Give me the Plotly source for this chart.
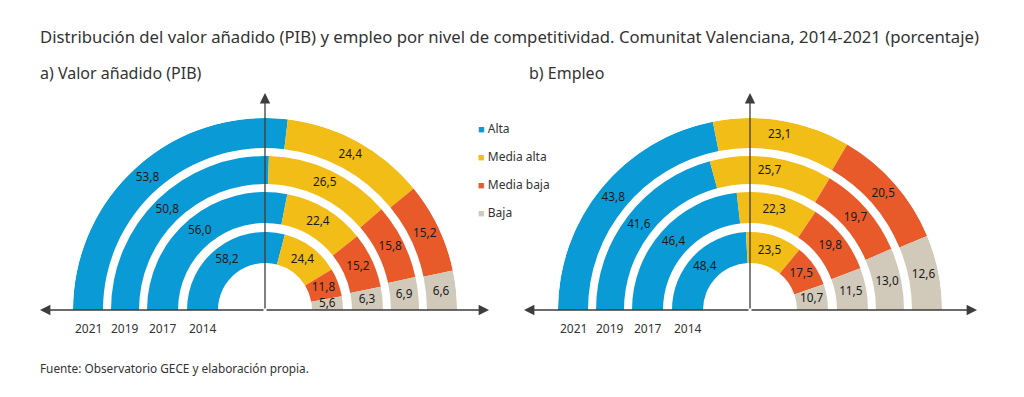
import plotly.graph_objects as go

# ---------------- data ----------------
years = ["2014", "2017", "2019", "2021"]
categories = ["Alta", "Media alta", "Media baja", "Baja"]

pib_alta = [58.2, 56.0, 50.8, 53.8]
pib_media_alta = [24.4, 22.4, 26.5, 24.4]
pib_media_baja = [11.8, 15.2, 15.8, 15.2]
pib_baja = [5.6, 6.3, 6.9, 6.6]

emp_alta = [48.4, 46.4, 41.6, 43.8]
emp_media_alta = [23.5, 22.3, 25.7, 23.1]
emp_media_baja = [17.5, 19.8, 19.7, 20.5]
emp_baja = [10.7, 11.5, 13.0, 12.6]

# ---------------- style ----------------
W, H = 1024, 397
OFF = 8  # page body margin
colors = ["#0a9bd6", "#f2bd16", "#e95a2a", "#d1c9ba"]
ring_inner = [47, 87, 126, 162]   # radial units (= pixels)
ring_outer = [78, 118, 154, 192]
R = 192
FONT = "Noto Sans"
TXT = "#333333"


def px_x(x):
    return (x - OFF) / W


def px_y(y):
    return 1 - (y - OFF) / H


fig = go.Figure()


def add_chart(series, polar_name):
    for yi in range(len(years)):
        vals = [s[yi] for s in series]
        tot = sum(vals)
        start = 0.0
        for ci, v in enumerate(vals):
            span = v / tot * 180.0
            fig.add_trace(go.Barpolar(
                r=[ring_outer[yi] - ring_inner[yi]],
                base=[ring_inner[yi]],
                theta=[start + span / 2],
                width=[span],
                marker=dict(color=colors[ci], line=dict(width=0)),
                subplot=polar_name,
                showlegend=False,
                hoverinfo="skip",
            ))
            fig.add_trace(go.Scatterpolar(
                r=[(ring_outer[yi] + ring_inner[yi]) / 2],
                theta=[start + span / 2],
                mode="text",
                text=[f"{v:.1f}".replace(".", ",")],
                textfont=dict(family=FONT, size=11.8, color="#1a1a1a"),
                subplot=polar_name,
                showlegend=False,
                hoverinfo="skip",
            ))
            start += span


add_chart([pib_alta, pib_media_alta, pib_media_baja, pib_baja], "polar")
add_chart([emp_alta, emp_media_alta, emp_media_baja, emp_baja], "polar2")

centers = [265, 750]
polar_common = dict(
    sector=[0, 180],
    bgcolor="rgba(0,0,0,0)",
    hole=0,
    radialaxis=dict(range=[0, R], visible=False, showgrid=False),
    angularaxis=dict(visible=False, rotation=180, direction="clockwise",
                     showgrid=False),
)
fig.update_layout(
    polar=dict(domain=dict(x=[px_x(centers[0] - R), px_x(centers[0] + R)],
                           y=[px_y(310), px_y(310 - R)]), **polar_common),
    polar2=dict(domain=dict(x=[px_x(centers[1] - R), px_x(centers[1] + R)],
                            y=[px_y(310), px_y(310 - R)]), **polar_common),
)

ann = []
# axes arrows
axis_col = "#3d3d3d"
for c, lt, rt in [(265, 40, 489), (750, 524, 977)]:
    for (tx, ty, ax, ay) in [(c, 93, 0, 217), (lt, 310, c - lt, 0), (rt, 310, c - rt, 0)]:
        ann.append(dict(x=px_x(tx), y=px_y(ty), xref="paper", yref="paper",
                        ax=ax, ay=ay, text="", showarrow=True,
                        arrowhead=2, arrowsize=1.6, arrowwidth=1.3,
                        arrowcolor=axis_col))
    # year labels
    for yi, yr in enumerate(years):
        mid = (ring_inner[yi] + ring_outer[yi]) / 2
        ann.append(dict(x=px_x(c - mid), y=px_y(328), xref="paper", yref="paper",
                        xanchor="center", yanchor="middle",
                        text=yr, showarrow=False,
                        font=dict(family=FONT, size=12, color=TXT)))


def label(x, y, text, size):
    ann.append(dict(x=px_x(x), y=px_y(y), xref="paper", yref="paper",
                    xanchor="left", yanchor="middle", text=text, showarrow=False,
                    font=dict(family=FONT, size=size, color=TXT)))


label(38, 37, "Distribución del valor añadido (PIB) y empleo por nivel de competitividad. "
              "Comunitat Valenciana, 2014-2021 (porcentaje)", 16.7)
label(38, 73, "a) Valor añadido (PIB)", 16)
label(527, 73, "b) Empleo", 16)
label(38, 368, "Fuente: Observatorio GECE y elaboración propia.", 11.8)

# legend
for i, cat in enumerate(categories):
    label(476, 128 + 28 * i,
          f"<span style='color:{colors[i]}; font-size:11px'>■</span> {cat}", 12)

fig.update_layout(
    width=W, height=H,
    margin=dict(l=0, r=0, t=0, b=0),
    paper_bgcolor="white",
    plot_bgcolor="white",
    annotations=ann,
    showlegend=False,
)

fig.write_html("out.html")
